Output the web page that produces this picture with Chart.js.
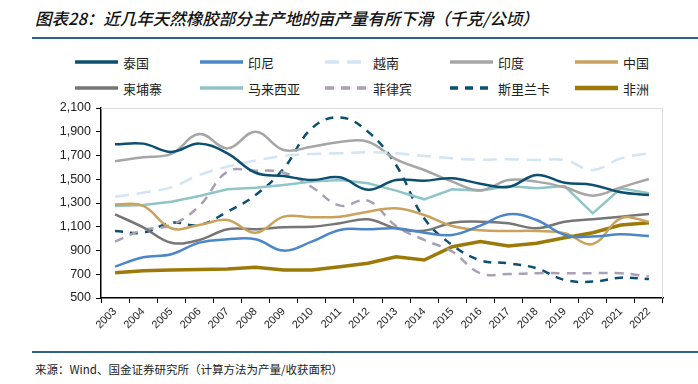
<!DOCTYPE html>
<html>
<head>
<meta charset="utf-8">
<script src="https://cdn.jsdelivr.net/npm/chart.js@4.4.0/dist/chart.umd.min.js"></script>
<style>
    body { margin: 0; width: 698px; height: 384px; background: #fff; position: relative; overflow: hidden; font-family: "Noto Sans CJK SC", sans-serif; }
    #title { position: absolute; left: 35px; top: 6px; font-size: 16.5px; font-style: italic; font-weight: 500; color: #111; white-space: nowrap; }
    .rule { position: absolute; left: 32px; right: 0; height: 2px; background: #2f6384; }
    .item { position: absolute; height: 20px; display: flex; align-items: center; font-size: 13px; color: #222; white-space: nowrap; }
    .item svg { margin-right: 5px; }
    #chart-wrap { position: absolute; left: 0; top: 95px; width: 698px; height: 255px; }
    #source { position: absolute; left: 35px; top: 361px; font-size: 11.5px; color: #222; white-space: nowrap; }
</style>
</head>
<body>
<div id="title">图表28：近几年天然橡胶部分主产地的亩产量有所下滑（千克/公顷）</div>
<div class="rule" style="top:37px"></div>
<div id="legend"></div>
<div id="chart-wrap"><canvas id="lineChart"></canvas></div>
<div class="rule" style="top:351px"></div>
<div id="source">来源：Wind、国金证券研究所（计算方法为产量/收获面积）</div>

<script>
const years = ['2003', '2004', '2005', '2006', '2007', '2008', '2009', '2010', '2011', '2012',
    '2013', '2014', '2015', '2016', '2017', '2018', '2019', '2020', '2021', '2022'];

const thailand = [1794, 1800, 1730, 1800, 1718, 1555, 1527, 1494, 1516, 1412, 1494, 1488, 1508, 1462, 1435, 1536, 1471, 1452, 1390, 1367];
const indonesia = [764, 843, 868, 966, 994, 994, 899, 975, 1073, 1079, 1087, 1050, 1031, 1110, 1205, 1157, 1031, 1017, 1036, 1022];
const vietnam = [1353, 1387, 1432, 1536, 1606, 1657, 1696, 1713, 1718, 1727, 1718, 1696, 1676, 1665, 1668, 1662, 1662, 1578, 1676, 1720];
const india = [1651, 1685, 1713, 1881, 1760, 1901, 1746, 1774, 1814, 1816, 1668, 1578, 1480, 1407, 1494, 1480, 1432, 1362, 1432, 1502];
const china = [1289, 1275, 1087, 1115, 1157, 1050, 1185, 1180, 1185, 1227, 1255, 1199, 1106, 1070, 1064, 1064, 1045, 955, 1171, 1143];
const cambodia = [1205, 1095, 966, 989, 1079, 1079, 1095, 1101, 1129, 1163, 1087, 1067, 1134, 1143, 1129, 1087, 1143, 1163, 1185, 1207];
const malaysia = [1275, 1283, 1311, 1359, 1415, 1429, 1452, 1480, 1494, 1466, 1404, 1331, 1415, 1404, 1443, 1424, 1443, 1213, 1424, 1382];
const philippines = [975, 1073, 1115, 1275, 1564, 1572, 1555, 1435, 1278, 1320, 1106, 989, 890, 708, 702, 709, 709, 709, 709, 680];
const sriLanka = [1064, 1050, 1134, 1115, 1227, 1367, 1590, 1929, 2021, 1901, 1620, 1171, 946, 817, 792, 750, 652, 638, 671, 660];
const africa = [713, 730, 736, 741, 744, 758, 736, 736, 764, 792, 848, 820, 932, 975, 938, 961, 1008, 1050, 1115, 1134];

const yMin = 500, yMax = 2100, yStep = 200;

const series = [
    { label: '泰国', data: thailand, color: '#0d4f70', width: 2.5, dash: [], tension: 0.4 },
    { label: '印尼', data: indonesia, color: '#4a86c8', width: 2.5, dash: [], tension: 0.4 },
    { label: '越南', data: vietnam, color: '#d3e4f3', width: 2.5, dash: [14, 8], tension: 0.4 },
    { label: '印度', data: india, color: '#a6a6a6', width: 2.5, dash: [], tension: 0.4 },
    { label: '中国', data: china, color: '#c9a25e', width: 2.5, dash: [], tension: 0.4 },
    { label: '柬埔寨', data: cambodia, color: '#767676', width: 2.5, dash: [], tension: 0.4 },
    { label: '马来西亚', data: malaysia, color: '#8fc5c7', width: 2.5, dash: [], tension: 0 },
    { label: '菲律宾', data: philippines, color: '#aaa0b6', width: 2.5, dash: [9, 7], tension: 0.4 },
    { label: '斯里兰卡', data: sriLanka, color: '#0d4f70', width: 2.5, dash: [8, 7], tension: 0.4 },
    { label: '非洲', data: africa, color: '#9c7a0a', width: 3.5, dash: [], tension: 0 }
];

// legend, 5 columns x 2 rows
const legendBox = document.getElementById('legend');
series.forEach((s, i) => {
    const col = i % 5, row = Math.floor(i / 5);
    const item = document.createElement('div');
    item.className = 'item';
    item.style.left = (75 + col * 125) + 'px';
    item.style.top = (52 + row * 26) + 'px';
    const dash = s.dash.length ? `stroke-dasharray="${s.dash.join(' ')}"` : '';
    item.innerHTML = `<svg width="43" height="6"><line x1="0" y1="3" x2="43" y2="3" stroke="${s.color}" stroke-width="${s.width + 1}" ${dash}/></svg>${s.label}`;
    legendBox.appendChild(item);
});

const frame = {
    id: 'frame',
    beforeDatasetsDraw(chart) {
        const { ctx, chartArea: a } = chart;
        ctx.save();
        ctx.strokeStyle = '#dcdcdc';
        ctx.lineWidth = 1;
        ctx.beginPath();
        ctx.moveTo(a.left, a.top + 0.5);
        ctx.lineTo(a.right - 0.5, a.top + 0.5);
        ctx.lineTo(a.right - 0.5, a.bottom);
        ctx.stroke();
        ctx.restore();
    }
};

const ctx = document.getElementById('lineChart').getContext('2d');
new Chart(ctx, {
    type: 'line',
    data: {
        labels: years,
        datasets: series.map(s => ({
            label: s.label,
            data: s.data,
            borderColor: s.color,
            backgroundColor: s.color,
            borderWidth: s.width,
            borderDash: s.dash,
            tension: s.tension,
            pointRadius: 0,
            fill: false,
            clip: false
        }))
    },
    options: {
        responsive: true,
        maintainAspectRatio: false,
        animation: false,
        layout: { padding: { top: 13, right: 35, bottom: 0, left: 0 } },
        plugins: {
            legend: { display: false },
            tooltip: { enabled: false }
        },
        scales: {
            x: {
                offset: true,
                grid: { display: true, offset: true, drawOnChartArea: false, drawTicks: true, tickLength: 5, color: '#000' },
                border: { color: '#000', width: 1.5 },
                ticks: {
                    color: '#222',
                    font: { family: 'Liberation Sans', size: 11 },
                    minRotation: 45,
                    maxRotation: 45,
                    autoSkip: false,
                    padding: 2
                },
                afterFit: scale => { scale.height = 52; }
            },
            y: {
                min: yMin,
                max: yMax,
                grid: { drawOnChartArea: false, drawTicks: true, tickLength: 5, color: '#000' },
                border: { color: '#000', width: 1.5 },
                ticks: {
                    stepSize: yStep,
                    color: '#222',
                    font: { family: 'Liberation Sans', size: 12.5 },
                    padding: 5,
                    callback: v => v.toLocaleString('en-US')
                },
                afterFit: scale => { scale.width = 101; }
            }
        }
    },
    plugins: [frame]
});
</script>
</body>
</html>
